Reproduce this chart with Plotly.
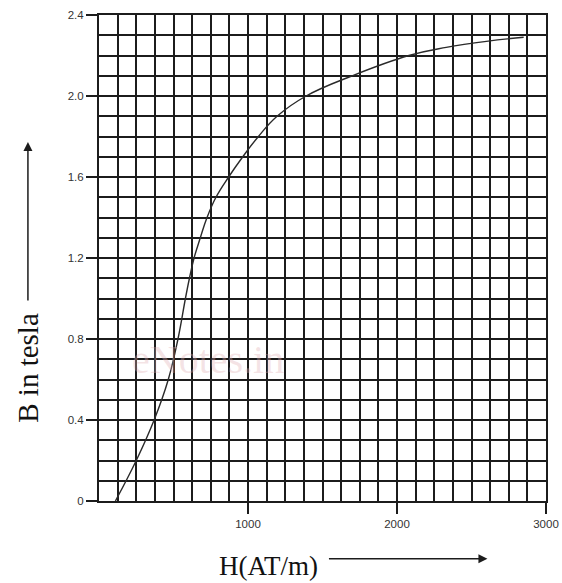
import plotly.graph_objects as go

# B-H magnetisation curve (H in AT/m, B in tesla)
H_values = [110, 250, 370, 465, 530, 580, 607, 638, 680, 725, 785, 870,
            965, 1070, 1195, 1390, 1700, 2080, 2330, 2600, 2850]
B_values = [0.0, 0.2, 0.4, 0.6, 0.8, 1.0, 1.1, 1.2, 1.3, 1.4, 1.5, 1.6,
            1.7, 1.8, 1.9, 2.0, 2.1, 2.2, 2.24, 2.27, 2.29]

x_ticks = [1000, 2000, 3000]
x_tick_labels = ["1000", "2000", "3000"]
y_ticks = [0, 0.4, 0.8, 1.2, 1.6, 2.0, 2.4]
y_tick_labels = ["0", "0.4", "0.8", "1.2", "1.6", "2.0", "2.4"]

ink = "#1c1c1c"

fig = go.Figure()
fig.add_trace(go.Scatter(
    x=H_values, y=B_values, mode="lines",
    line=dict(color="#2a2a2a", width=1.4, shape="spline", smoothing=1.2),
    hoverinfo="skip", showlegend=False,
))

axis_common = dict(
    automargin=False,
    showline=True, linecolor=ink, linewidth=2, mirror=True,
    ticks="outside", ticklen=11, tickwidth=1.5, tickcolor=ink,
    showgrid=True, gridcolor=ink, gridwidth=1.8,
    zeroline=False,
    tickfont=dict(family="Liberation Sans, Arial", size=11.5, color="#333"),
)

fig.update_xaxes(
    range=[0, 3000], tickmode="array", tickvals=x_ticks, ticktext=x_tick_labels,
    minor=dict(tickmode="linear", tick0=0, dtick=125, showgrid=True,
               gridcolor=ink, gridwidth=1.8, ticks=""),
    **axis_common,
)
fig.update_yaxes(
    range=[0, 2.4], tickmode="array", tickvals=y_ticks, ticktext=y_tick_labels,
    minor=dict(tickmode="linear", tick0=0, dtick=0.1, showgrid=True,
               gridcolor=ink, gridwidth=1.8, ticks=""),
    **axis_common,
)

serif_y = dict(family="Liberation Serif, Times New Roman", size=29, color="#111")
serif_x = dict(family="Liberation Serif, Times New Roman", size=27, color="#111")

annotations = [
    # faint watermark
    dict(text="eNotes.in", x=0.07, y=0.24, xref="paper", yref="paper",
         showarrow=False, font=dict(family="Liberation Serif", size=40,
                                    color="rgba(225,175,180,0.35)")),
    # y-axis title and arrow
    dict(text="B in tesla", x=-0.159, y=0.274, xref="paper", yref="paper",
         textangle=-90, showarrow=False, font=serif_y,
         xanchor="center", yanchor="middle"),
    dict(text="", x=-0.159, y=0.7387, xref="paper", yref="paper",
         showarrow=True, ax=0, ay=160, arrowhead=2, arrowsize=1.2,
         arrowwidth=1.5, arrowcolor=ink),
    # x-axis title and arrow
    dict(text="H(AT/m)", x=0.379, y=-0.134, xref="paper", yref="paper",
         showarrow=False, font=serif_x, xanchor="center", yanchor="middle"),
    dict(text="", x=0.869, y=-0.119, xref="paper", yref="paper",
         showarrow=True, ax=-160, ay=0, arrowhead=2, arrowsize=1.2,
         arrowwidth=1.5, arrowcolor=ink),
]

fig.update_layout(
    width=562, height=583,
    margin=dict(l=99, r=16, t=15, b=82),
    plot_bgcolor="white", paper_bgcolor="white",
    annotations=annotations,
)

fig.write_html("out.html")
